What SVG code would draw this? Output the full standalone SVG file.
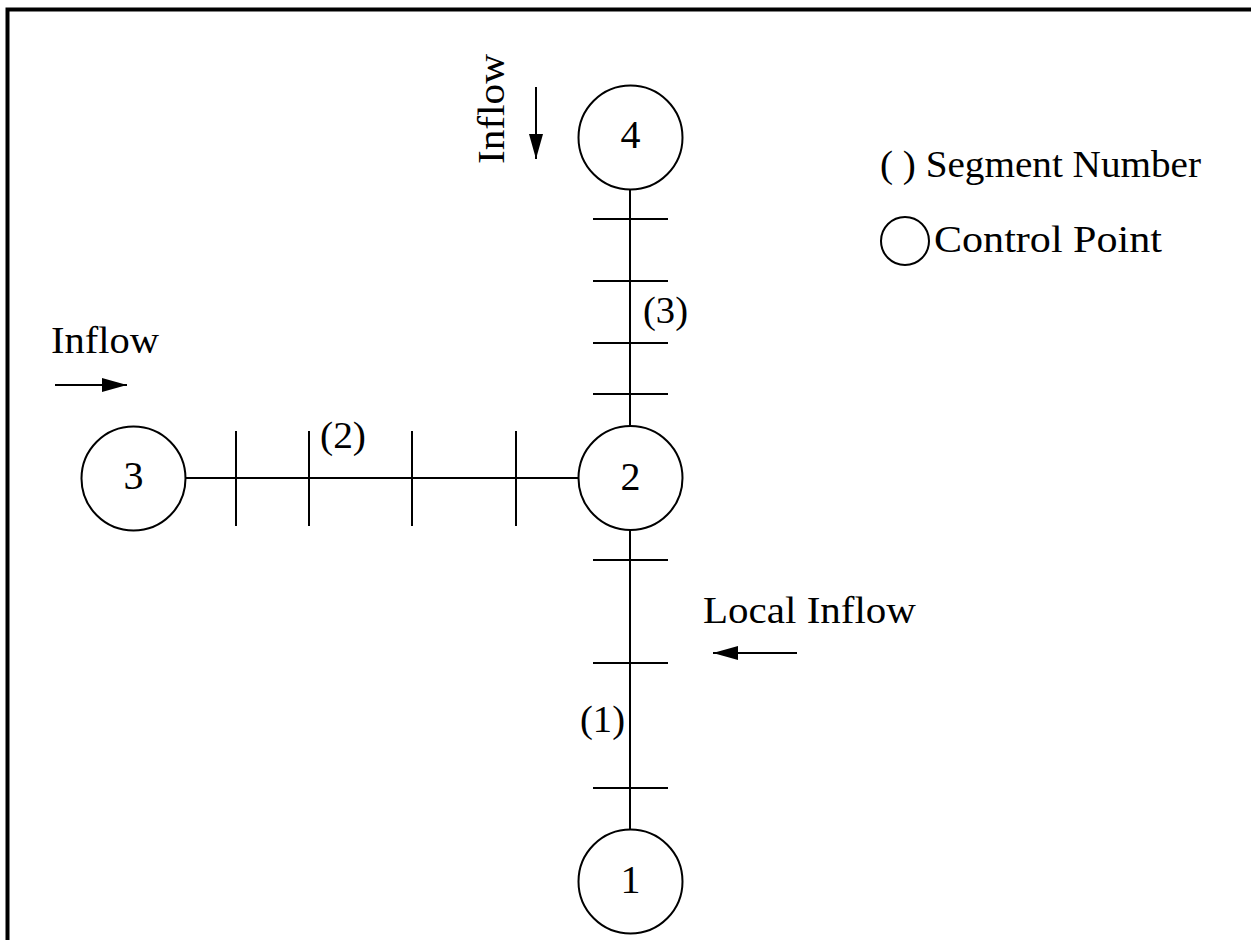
<svg xmlns="http://www.w3.org/2000/svg" width="1251" height="940" viewBox="0 0 1251 940">
<style>
.ln{stroke:#000;stroke-width:2;fill:none}
.nd{stroke:#000;stroke-width:2;fill:#fff}
.t{font-family:"Liberation Serif","Times New Roman",serif;font-size:38px;fill:#000}
.d{font-family:"Liberation Serif","Times New Roman",serif;font-size:40px;fill:#000;text-anchor:middle}
</style>
<defs>
<marker id="ah" viewBox="0 0 25 14" refX="25" refY="7" markerWidth="25" markerHeight="14" markerUnits="userSpaceOnUse" orient="auto">
<path d="M0,0 L25,7 L0,14 Z" fill="#000"/>
</marker>
</defs>
<rect width="1251" height="940" fill="#fff"/>
<path d="M7.5,940 V9.5 H1251" stroke="#000" stroke-width="4" fill="none"/>
<g id="connectors">
<line class="ln" x1="630" y1="189" x2="630" y2="426"/>
<line class="ln" x1="630" y1="530" x2="630" y2="830"/>
<line class="ln" x1="185" y1="478" x2="578" y2="478"/>
<line class="ln" x1="593" y1="219" x2="668" y2="219"/>
<line class="ln" x1="593" y1="281" x2="668" y2="281"/>
<line class="ln" x1="593" y1="343" x2="668" y2="343"/>
<line class="ln" x1="593" y1="394" x2="668" y2="394"/>
<line class="ln" x1="593" y1="560" x2="668" y2="560"/>
<line class="ln" x1="593" y1="663" x2="668" y2="663"/>
<line class="ln" x1="593" y1="788" x2="668" y2="788"/>
<line class="ln" x1="236" y1="431" x2="236" y2="526"/>
<line class="ln" x1="309" y1="431" x2="309" y2="526"/>
<line class="ln" x1="412" y1="431" x2="412" y2="526"/>
<line class="ln" x1="516" y1="431" x2="516" y2="526"/>
<line class="ln" x1="55" y1="385" x2="127" y2="385" marker-end="url(#ah)"/>
<line class="ln" x1="536" y1="87" x2="536" y2="159" marker-end="url(#ah)"/>
<line class="ln" x1="797" y1="653" x2="713" y2="653" marker-end="url(#ah)"/>
<text class="t" x="643" y="323" textLength="45" lengthAdjust="spacingAndGlyphs">(3)</text>
<text class="t" x="320" y="448" textLength="46" lengthAdjust="spacingAndGlyphs">(2)</text>
<text class="t" x="580" y="732" textLength="45" lengthAdjust="spacingAndGlyphs">(1)</text>
<text class="t" x="51" y="353" textLength="108" lengthAdjust="spacingAndGlyphs">Inflow</text>
<text class="t" transform="translate(504,164) rotate(-90)" textLength="110" lengthAdjust="spacingAndGlyphs">Inflow</text>
<text class="t" x="703" y="623" textLength="213" lengthAdjust="spacingAndGlyphs">Local Inflow</text>
</g>
<g id="node4"><circle class="nd" cx="630.5" cy="137.5" r="52"/><text class="d" x="630.5" y="148">4</text></g>
<g id="node2"><circle class="nd" cx="630.5" cy="478" r="52"/><text class="d" x="630.5" y="490">2</text></g>
<g id="node3"><circle class="nd" cx="133.5" cy="478.5" r="52"/><text class="d" x="133.5" y="489">3</text></g>
<g id="node1"><circle class="nd" cx="630.5" cy="881.5" r="52"/><text class="d" x="630.5" y="893">1</text></g>
<g id="legend">
<text class="t" x="880" y="177" textLength="321" lengthAdjust="spacingAndGlyphs">( ) Segment Number</text>
<circle class="nd" cx="905" cy="241" r="24"/>
<text class="t" x="934" y="252" textLength="228" lengthAdjust="spacingAndGlyphs">Control Point</text>
</g>
</svg>
